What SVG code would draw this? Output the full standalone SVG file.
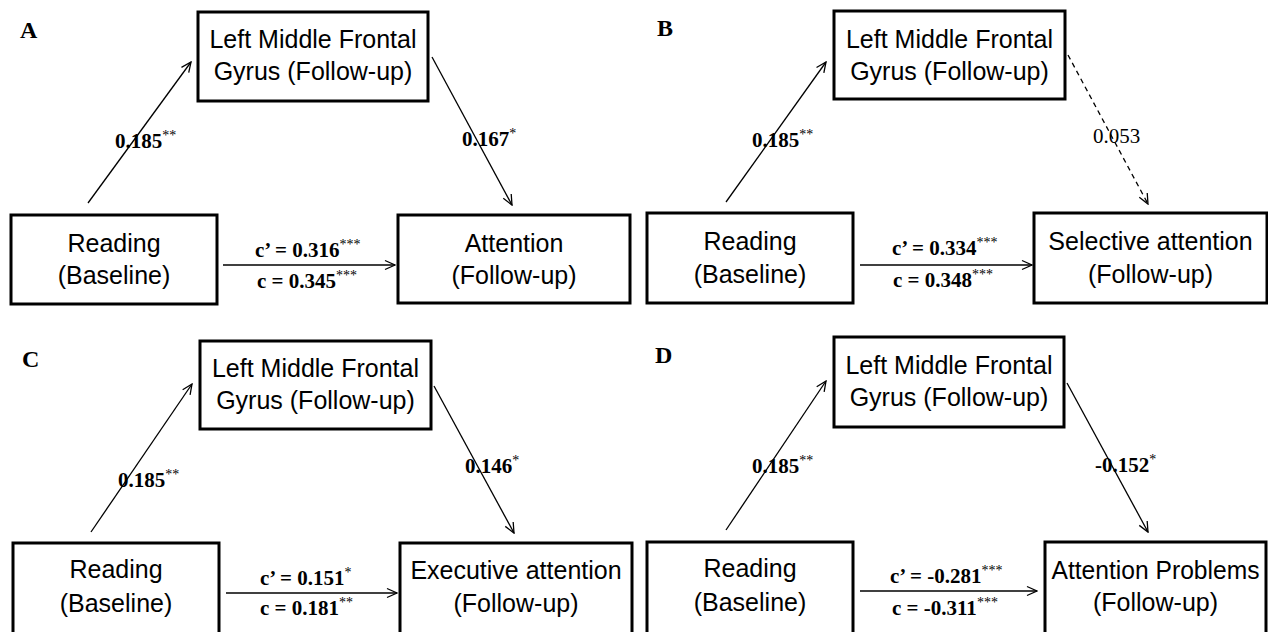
<svg xmlns="http://www.w3.org/2000/svg" width="1268" height="632" viewBox="0 0 1268 632">
<style>
.bg{fill:#fff}
.box{fill:#fff;stroke:#000;stroke-width:3}
.bt{font-family:"Liberation Sans",Arial,sans-serif;font-size:25px;text-anchor:middle;fill:#000}
.lab{font-family:"Liberation Serif","Times New Roman",serif;font-size:21px;font-weight:bold;fill:#000}
.nb{font-weight:normal}
.sup{font-size:14px;font-weight:normal}
.pl{font-family:"Liberation Serif","Times New Roman",serif;font-size:24px;font-weight:bold;fill:#000}
.conn{stroke:#000;stroke-width:1.3;fill:none;marker-end:url(#arr)}
.dash{stroke-dasharray:5 4}
</style>
<defs>
<marker id="arr" viewBox="0 0 12 12" refX="11" refY="6" markerWidth="12" markerHeight="12" markerUnits="userSpaceOnUse" orient="auto">
<path d="M1,1.5 L11,6 L1,10.5" fill="none" stroke="#000" stroke-width="1.3"/>
</marker>
</defs>
<rect class="bg" x="0" y="0" width="1268" height="632"/>

<!-- Panel letters -->
<g id="panel-labels">
<text class="pl" x="20" y="38">A</text>
<text class="pl" x="657" y="36">B</text>
<text class="pl" x="22" y="367">C</text>
<text class="pl" x="655" y="363">D</text>
</g>

<!-- Panel A -->
<g id="A-mediator"><rect class="box" x="198" y="12" width="230" height="89"/>
<text class="bt" x="313" y="48">Left Middle Frontal</text><text class="bt" x="313" y="80">Gyrus (Follow-up)</text></g>
<g id="A-reading"><rect class="box" x="11" y="215" width="206" height="89"/>
<text class="bt" x="114" y="252">Reading</text><text class="bt" x="114" y="284">(Baseline)</text></g>
<g id="A-outcome"><rect class="box" x="398" y="215" width="232" height="88"/>
<text class="bt" x="514" y="252">Attention</text><text class="bt" x="514" y="284">(Follow-up)</text></g>

<!-- Panel B -->
<g id="B-mediator"><rect class="box" x="834" y="11" width="231" height="88"/>
<text class="bt" x="949.5" y="48">Left Middle Frontal</text><text class="bt" x="949.5" y="80">Gyrus (Follow-up)</text></g>
<g id="B-reading"><rect class="box" x="647" y="213" width="206" height="90"/>
<text class="bt" x="750" y="250">Reading</text><text class="bt" x="750" y="283">(Baseline)</text></g>
<g id="B-outcome"><rect class="box" x="1034" y="213" width="233" height="90"/>
<text class="bt" x="1150.5" y="250">Selective attention</text><text class="bt" x="1150.5" y="283">(Follow-up)</text></g>

<!-- Panel C -->
<g id="C-mediator"><rect class="box" x="200" y="341" width="231" height="88"/>
<text class="bt" x="315.5" y="377">Left Middle Frontal</text><text class="bt" x="315.5" y="409">Gyrus (Follow-up)</text></g>
<g id="C-reading"><rect class="box" x="13" y="543" width="206" height="93"/>
<text class="bt" x="116" y="578">Reading</text><text class="bt" x="116" y="612">(Baseline)</text></g>
<g id="C-outcome"><rect class="box" x="400" y="543" width="232" height="93"/>
<text class="bt" x="516" y="579">Executive attention</text><text class="bt" x="516" y="612">(Follow-up)</text></g>

<!-- Panel D -->
<g id="D-mediator"><rect class="box" x="834" y="337" width="230" height="90"/>
<text class="bt" x="949" y="374">Left Middle Frontal</text><text class="bt" x="949" y="406">Gyrus (Follow-up)</text></g>
<g id="D-reading"><rect class="box" x="647" y="542" width="206" height="94"/>
<text class="bt" x="750" y="577">Reading</text><text class="bt" x="750" y="611">(Baseline)</text></g>
<g id="D-outcome"><rect class="box" x="1045" y="542" width="221" height="94"/>
<text class="bt" x="1155.5" y="579" textLength="208" lengthAdjust="spacingAndGlyphs">Attention Problems</text><text class="bt" x="1155.5" y="611">(Follow-up)</text></g>

<!-- Connector labels -->
<g id="edge-labels">
<text class="lab" x="115" y="148">0.185<tspan class="sup" dy="-8">**</tspan></text>
<text class="lab" x="462" y="146">0.167<tspan class="sup" dy="-8">*</tspan></text>
<text class="lab" x="255" y="257">c’ = 0.316<tspan class="sup" dy="-8">***</tspan></text>
<text class="lab" x="257" y="288">c = 0.345<tspan class="sup" dy="-8">***</tspan></text>

<text class="lab" x="752" y="147">0.185<tspan class="sup" dy="-8">**</tspan></text>
<text class="lab nb" x="1093" y="143">0.053</text>
<text class="lab" x="892" y="255">c’ = 0.334<tspan class="sup" dy="-8">***</tspan></text>
<text class="lab" x="893" y="287">c = 0.348<tspan class="sup" dy="-8">***</tspan></text>

<text class="lab" x="118" y="487">0.185<tspan class="sup" dy="-8">**</tspan></text>
<text class="lab" x="465" y="473">0.146<tspan class="sup" dy="-8">*</tspan></text>
<text class="lab" x="260" y="585">c’ = 0.151<tspan class="sup" dy="-8">*</tspan></text>
<text class="lab" x="260" y="615">c = 0.181<tspan class="sup" dy="-8">**</tspan></text>

<text class="lab" x="752" y="473">0.185<tspan class="sup" dy="-8">**</tspan></text>
<text class="lab" x="1095" y="472">-0.152<tspan class="sup" dy="-8">*</tspan></text>
<text class="lab" x="890" y="583">c’ = -0.281<tspan class="sup" dy="-8">***</tspan></text>
<text class="lab" x="892" y="615">c = -0.311<tspan class="sup" dy="-8">***</tspan></text>
</g>

<!-- Connectors -->
<g id="connectors">
<line class="conn" x1="88" y1="203" x2="191" y2="62"/>
<line class="conn" x1="432" y1="57" x2="512" y2="205"/>
<line class="conn" x1="223" y1="265" x2="395" y2="265"/>

<line class="conn" x1="726" y1="202" x2="826" y2="62"/>
<line class="conn dash" x1="1068" y1="55" x2="1148" y2="204"/>
<line class="conn" x1="860" y1="265" x2="1032" y2="265"/>

<line class="conn" x1="91" y1="532" x2="192" y2="384"/>
<line class="conn" x1="434" y1="386" x2="514" y2="533"/>
<line class="conn" x1="226" y1="593" x2="397" y2="593"/>

<line class="conn" x1="726" y1="530" x2="826" y2="381"/>
<line class="conn" x1="1067" y1="383" x2="1148" y2="532"/>
<line class="conn" x1="860" y1="591" x2="1037" y2="591"/>
</g>
</svg>
